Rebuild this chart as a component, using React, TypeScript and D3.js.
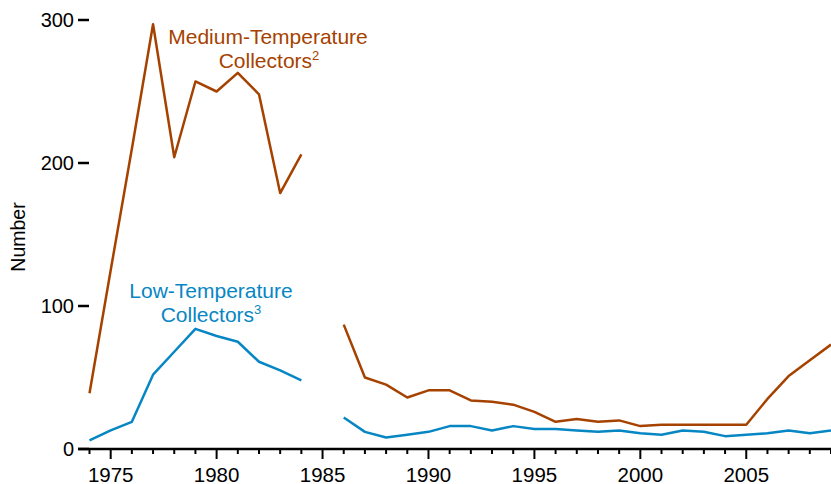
import React from "react";
import { scaleLinear, line } from "d3";

const years: number[] = [
  1974, 1975, 1976, 1977, 1978, 1979, 1980, 1981, 1982, 1983, 1984, 1985,
  1986, 1987, 1988, 1989, 1990, 1991, 1992, 1993, 1994, 1995, 1996, 1997,
  1998, 1999, 2000, 2001, 2002, 2003, 2004, 2005, 2006, 2007, 2008, 2009
];

// 1985 has no data (gap in both lines)
const mediumTemp: (number | null)[] = [
  39, 125, 210, 297, 204, 257, 250, 263, 248, 179, 206, null,
  87, 50, 45, 36, 41, 41, 34, 33, 31, 26, 19, 21,
  19, 20, 16, 17, 17, 17, 17, 17, 35, 51, 62, 73
];

const lowTemp: (number | null)[] = [
  6, 13, 19, 52, 68, 84, 79, 75, 61, 55, 48, null,
  22, 12, 8, 10, 12, 16, 16, 13, 16, 14, 14, 13,
  12, 13, 11, 10, 13, 12, 9, 10, 11, 13, 11, 13
];

const yTicks = [0, 100, 200, 300];
const xLabels = [1975, 1980, 1985, 1990, 1995, 2000, 2005];

const W = 831;
const H = 484;

export default function App() {
  const x = scaleLinear().domain([1974, 2009]).range([89.5, 831]);
  const y = scaleLinear().domain([0, 300]).range([449, 20]);

  const mkLine = (vals: (number | null)[]) =>
    line<number>()
      .defined((_, i) => vals[i] !== null)
      .x(d => x(d))
      .y((_, i) => y(vals[i] as number))(years) || "";

  const font = "'Liberation Sans', Arial, sans-serif";
  const brown = "#a64200";
  const blue = "#0786c4";

  return (
    <svg
      width={W}
      height={H}
      style={{ position: "absolute", left: 0, top: 0 }}
      fontFamily={font}
    >
      {/* y ticks, no axis line */}
      {yTicks.map(t => (
        <g key={t}>
          <line x1={78} x2={89} y1={y(t)} y2={y(t)} stroke="#000" strokeWidth={2.5} />
          <text x={74} y={y(t)} dy="0.36em" textAnchor="end" fontSize={20}>
            {t}
          </text>
        </g>
      ))}
      <text
        transform="translate(25,237) rotate(-90)"
        textAnchor="middle"
        fontSize={19.5}
      >
        Number
      </text>

      {/* x axis */}
      <line x1={78} x2={W} y1={y(0)} y2={y(0)} stroke="#000" strokeWidth={2.5} />
      {years.map(yr => (
        <line
          key={yr}
          x1={x(yr)}
          x2={x(yr)}
          y1={y(0)}
          y2={y(0) + (yr % 5 === 0 ? 10 : 5)}
          stroke="#000"
          strokeWidth={2}
        />
      ))}
      {xLabels.map(yr => (
        <text key={yr} x={x(yr)} y={482} textAnchor="middle" fontSize={20.5}>
          {yr}
        </text>
      ))}

      <path d={mkLine(mediumTemp)} fill="none" stroke={brown} strokeWidth={2.5} strokeLinejoin="round" />
      <path d={mkLine(lowTemp)} fill="none" stroke={blue} strokeWidth={2.5} strokeLinejoin="round" />

      <text x={268} y={44} textAnchor="middle" fontSize={21} fill={brown}>
        Medium-Temperature
      </text>
      <text x={269} y={68} textAnchor="middle" fontSize={21} fill={brown}>
        Collectors<tspan fontSize={13} dy={-8}>2</tspan>
      </text>
      <text x={211} y={298} textAnchor="middle" fontSize={21} fill={blue}>
        Low-Temperature
      </text>
      <text x={211} y={322} textAnchor="middle" fontSize={21} fill={blue}>
        Collectors<tspan fontSize={13} dy={-8}>3</tspan>
      </text>
    </svg>
  );
}
